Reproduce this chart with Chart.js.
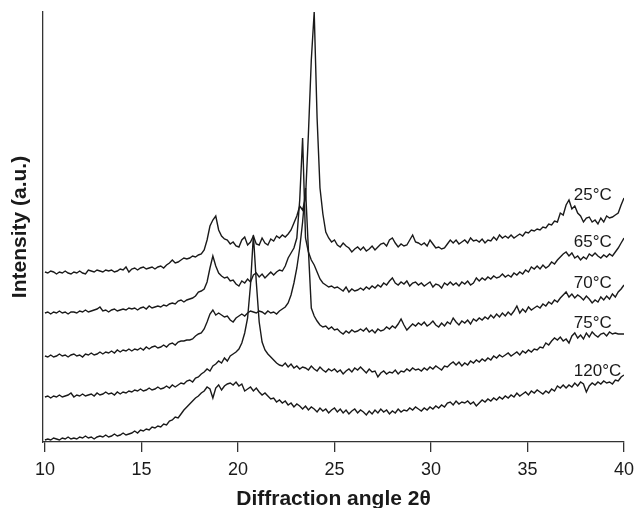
<!DOCTYPE html>
<html>
<head>
<meta charset="utf-8">
<script src="https://cdn.jsdelivr.net/npm/chart.js@4"></script>
<style>
  html, body { margin: 0; padding: 0; background: #fff; }
  canvas { display: block; }
</style>
</head>
<body>
<canvas id="xrd" width="636" height="508"></canvas>
<script>
/* scan grid: 10° to 40° 2θ, step 0.15° */
const angleStart = 10;
const angleStep = 0.15;
const angleCount = 201;
const angles = [];
for (let i = 0; i < angleCount; i++) {
    angles.push(Math.round((angleStart + i * angleStep) * 100) / 100);
}

const tempLabels = ['25°C', '65°C', '70°C', '75°C', '120°C'];
const xTicks = [10, 15, 20, 25, 30, 35, 40];

// intensity (a.u.), offset curves
const t25 = [
    170,169,171,170,168,170,169,171,169,168,
    170,169,171,169,168,172,171,170,172,171,
    170,172,171,172,170,171,173,172,175,170,
    173,174,172,174,175,173,174,175,173,175,
    176,174,177,179,182,179,180,182,184,183,
    184,186,185,187,188,192,202,216,222,226,
    212,206,203,202,198,200,196,195,202,205,
    197,200,206,198,197,204,199,197,203,201,
    206,204,207,205,208,212,219,226,236,232,
    244,308,382,430,324,254,228,210,204,200,
    202,197,195,199,196,194,190,193,195,192,
    195,191,193,196,192,195,198,199,196,202,
    204,199,195,198,196,197,202,207,200,199,
    197,199,196,202,198,194,195,193,194,198,
    202,199,202,198,200,202,199,204,201,202,
    200,203,199,202,201,205,202,207,204,206,
    204,207,204,206,208,206,210,209,212,211,
    213,212,215,214,218,217,221,220,229,227,
    237,242,233,236,229,226,220,224,225,220,
    222,218,224,220,226,224,225,227,229,237,
    244
];
const t65 = [
    129,130,128,130,129,131,129,130,128,130,
    130,129,131,130,132,130,131,132,133,135,
    131,132,130,132,133,131,132,133,132,134,
    133,134,132,134,135,133,136,134,135,136,
    135,137,136,138,139,138,141,142,140,142,
    143,144,146,150,151,153,160,174,186,176,
    169,166,164,165,161,162,158,156,161,159,
    163,160,167,169,165,168,164,167,170,167,
    170,172,171,176,184,189,194,204,242,304,
    204,190,182,177,170,163,159,157,155,156,
    154,155,153,151,155,150,153,151,152,154,
    152,155,153,156,154,157,155,159,157,161,
    164,159,157,160,158,161,156,159,160,157,
    159,156,158,160,155,158,157,154,159,157,
    160,157,159,156,160,158,161,157,159,164,
    161,164,162,165,163,166,164,165,168,165,
    167,165,169,167,170,168,172,170,175,173,
    176,173,177,174,176,180,178,182,185,188,
    190,186,189,184,186,182,185,183,188,186,
    189,186,184,187,185,188,186,190,194,199,
    204
];
const t70 = [
    86,85,87,85,86,88,86,87,85,87,
    88,86,87,85,88,87,89,87,88,90,
    88,90,89,91,89,92,90,92,91,93,
    91,93,92,94,92,95,93,95,96,94,
    95,97,95,98,99,97,100,101,101,102,
    102,103,106,108,109,113,120,128,132,127,
    129,127,125,126,122,120,124,126,128,126,
    129,131,130,129,131,130,128,131,129,130,
    128,131,133,135,139,147,159,174,194,220,
    254,192,134,126,121,117,115,116,113,115,
    112,113,110,108,111,109,112,110,111,113,
    111,114,110,112,109,113,111,112,115,113,
    116,114,118,123,117,112,115,118,116,119,
    117,120,116,118,121,117,115,119,116,120,
    118,124,120,117,121,119,122,118,123,121,
    124,122,125,123,127,124,128,125,129,126,
    130,127,131,136,129,133,130,135,132,134,
    136,134,138,136,140,138,142,140,144,147,
    150,145,148,144,147,145,142,146,143,139,
    142,140,145,142,146,143,148,145,150,153,
    157
];
const t75 = [
    45,46,44,46,45,47,45,46,47,49,
    45,47,46,48,46,47,48,46,49,47,
    48,50,48,49,47,50,48,50,49,51,
    50,52,51,53,51,52,54,52,53,55,
    53,54,56,54,57,55,57,59,58,61,
    62,60,64,65,68,70,73,71,76,78,
    81,79,84,81,86,88,90,93,99,109,
    124,157,207,160,120,100,92,88,85,82,
    79,77,76,79,75,78,74,76,73,75,
    74,72,76,73,71,75,72,70,73,71,
    73,70,72,68,71,73,70,74,72,75,
    72,69,73,70,71,65,69,71,68,70,
    69,72,68,71,70,73,71,74,72,73,
    71,74,72,75,73,76,74,72,76,75,
    78,80,77,80,76,79,77,81,79,82,
    80,83,81,84,82,86,84,87,85,87,
    89,86,88,90,87,91,89,92,90,93,
    92,95,94,99,97,101,104,102,105,101,
    103,99,106,109,104,107,103,109,105,110,
    107,105,108,109,106,110,108,109,108,108,
    108
];
const t120 = [
    2,3,2,4,3,2,4,3,5,3,
    4,3,5,4,6,4,5,3,5,6,
    5,7,5,6,8,6,7,9,7,8,
    9,11,9,12,11,13,12,15,14,16,
    15,18,17,21,22,25,24,28,32,35,
    38,41,44,46,49,51,55,53,44,54,
    57,52,56,58,59,57,60,56,58,51,
    53,55,51,54,50,47,49,46,43,44,
    40,42,39,41,37,39,35,38,36,33,
    36,32,35,33,30,34,31,33,29,32,
    34,30,33,29,32,28,31,33,29,32,
    30,27,31,28,32,29,33,30,32,28,
    31,29,33,30,32,31,34,32,35,33,
    31,34,32,35,33,36,34,37,35,39,
    40,37,41,38,40,39,41,38,40,36,
    39,42,40,43,41,44,42,45,43,46,
    44,47,45,49,46,48,50,47,51,49,
    52,50,48,51,49,53,51,56,54,57,
    54,57,55,59,56,60,58,50,56,59,
    57,60,58,61,59,60,58,62,61,65,
    67
];

const seriesList = [t25, t65, t70, t75, t120];

const FONT = "'Liberation Sans', Arial, sans-serif";
const INK = '#1a1a1a';

// temperature tags at the right end of each curve
const curveTags = {
    id: 'curveTags',
    afterDatasetsDraw(chart, args, opts) {
        const ctx = chart.ctx;
        const xs = chart.scales.x;
        const ys = chart.scales.y;
        ctx.save();
        ctx.font = '17px ' + FONT;
        ctx.fillStyle = INK;
        ctx.textAlign = 'left';
        ctx.textBaseline = 'alphabetic';
        tempLabels.forEach((txt, i) => {
            ctx.fillText(txt, xs.getPixelForValue(opts.angle), ys.getPixelForValue(opts.levels[i]));
        });
        ctx.restore();
    }
};

new Chart(document.getElementById('xrd'), {
    type: 'line',
    data: {
        datasets: seriesList.map((vals, k) => ({
            label: tempLabels[k],
            data: vals.map((v, i) => ({ x: angles[i], y: v })),
            borderColor: INK,
            borderWidth: 1.4,
            pointRadius: 0,
            tension: 0,
            fill: false
        }))
    },
    options: {
        responsive: false,
        animation: false,
        devicePixelRatio: 1,
        layout: { padding: { top: 12, right: 12, left: 0, bottom: 0 } },
        plugins: {
            legend: { display: false },
            tooltip: { enabled: false },
            curveTags: { angle: 37.4, levels: [242, 195, 154, 114, 66] }
        },
        scales: {
            x: {
                type: 'linear',
                min: 9.9,
                max: 40,
                afterBuildTicks: s => { s.ticks = xTicks.map(v => ({ value: v })); },
                afterFit: s => {
                    s.height = 66;
                    s.paddingLeft = 0;
                    s.paddingRight = 0;
                },
                grid: { drawOnChartArea: false, drawTicks: true, tickLength: 10, color: '#333', lineWidth: 1.3 },
                border: { display: true, color: '#333', width: 1.3 },
                ticks: { font: { family: FONT, size: 18 }, color: INK, padding: 7, maxRotation: 0 },
                title: {
                    display: true,
                    text: 'Diffraction angle 2θ',
                    font: { family: FONT, size: 21, weight: 'bold' },
                    color: INK,
                    padding: { top: 0, bottom: -4 }
                }
            },
            y: {
                min: 0,
                max: 430,
                afterFit: s => { s.width = 43; },
                grid: { display: false },
                border: { display: true, color: '#333', width: 1.3 },
                ticks: { display: false },
                title: {
                    display: true,
                    text: 'Intensity (a.u.)',
                    font: { family: FONT, size: 21, weight: 'bold' },
                    color: INK,
                    padding: { top: 8, bottom: 0 }
                }
            }
        }
    },
    plugins: [curveTags]
});
</script>
</body>
</html>
